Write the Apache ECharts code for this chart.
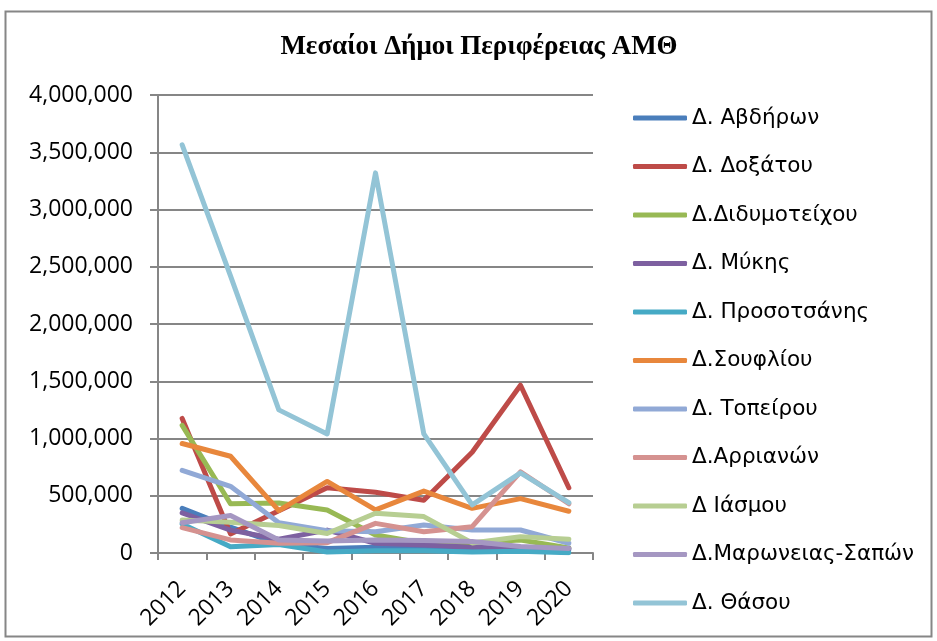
<!DOCTYPE html>
<html>
<head>
<meta charset="utf-8">
<script src="https://cdn.jsdelivr.net/npm/echarts@6/dist/echarts.min.js"></script>
<style>
  html, body { margin: 0; padding: 0; background: #fff; }
  #main { width: 937px; height: 641px; }
</style>
</head>
<body>
<div id="main"></div>
<script>
// years on the x axis
const years = ['2012', '2013', '2014', '2015', '2016', '2017', '2018', '2019', '2020'];

// one array per municipality
const avdiron      = [390000, 225000, 80000, 40000, 50000, 60000, 40000, 30000, 30000];
const doxatou      = [1175000, 167000, 370000, 570000, 530000, 460000, 880000, 1465000, 570000];
const didymoteixou = [1115000, 430000, 436000, 375000, 157000, 85000, 90000, 114000, 45000];
const mykis        = [350000, 200000, 120000, 200000, 85000, 70000, 50000, 40000, 40000];
const prosotsanis  = [254000, 55000, 75000, 9000, 20000, 20000, 8000, 15000, 3000];
const soufliou     = [956000, 845000, 370000, 625000, 377000, 541000, 390000, 475000, 365000];
const topeirou     = [722000, 582000, 265000, 195000, 186000, 245000, 201000, 201000, 85000];
const arrianon     = [221000, 114000, 85000, 90000, 259000, 186000, 230000, 708000, 430000];
const iasmou       = [288000, 269000, 240000, 170000, 347000, 318000, 88000, 143000, 120000];
const maroneias    = [265000, 328000, 114000, 104000, 114000, 110000, 100000, 56000, 40000];
const thasou       = [3565000, 2420000, 1250000, 1040000, 3320000, 1040000, 420000, 700000, 440000];

const names = ['Δ. Αβδήρων', 'Δ. Δοξάτου', 'Δ.Διδυμοτείχου', 'Δ. Μύκης', 'Δ. Προσοτσάνης',
  'Δ.Σουφλίου', 'Δ. Τοπείρου', 'Δ.Αρριανών', 'Δ Ιάσμου', 'Δ.Μαρωνειας-Σαπών', 'Δ. Θάσου'];
const colors = ['#4A7EBB', '#BE4B48', '#98B954', '#7D60A0', '#46AAC5',
  '#E8873C', '#91A9D6', '#D59290', '#B7CE92', '#A597C2', '#93C4D6'];
const values = [avdiron, doxatou, didymoteixou, mykis, prosotsanis, soufliou,
  topeirou, arrianon, iasmou, maroneias, thasou];

const chart = echarts.init(document.getElementById('main'));

const series = names.map((n, i) => ({
  name: n,
  type: 'line',
  data: values[i],
  symbol: 'none',
  lineStyle: { width: 5, color: colors[i], cap: 'round', join: 'round' },
  itemStyle: { color: colors[i] }
}));

chart.setOption({
  animation: false,
  backgroundColor: '#fff',
  title: {
    text: 'Μεσαίοι Δήμοι Περιφέρειας ΑΜΘ',
    left: 479,
    textAlign: 'center',
    top: 34,
    padding: 0,
    textStyle: { fontFamily: 'Liberation Serif', fontWeight: 'bold', fontSize: 27, color: '#000' }
  },
  graphic: [{
    type: 'rect',
    shape: { x: 5.5, y: 11.5, width: 926, height: 625 },
    style: { fill: 'none', stroke: '#868686', lineWidth: 2 },
    silent: true
  }],
  legend: {
    orient: 'vertical',
    left: 633,
    top: 107,
    padding: 0,
    icon: 'roundRect',
    itemWidth: 54,
    itemHeight: 5,
    itemGap: 26.5,
    textStyle: { fontFamily: 'DejaVu Sans', fontSize: 21.5, color: '#000', lineHeight: 21 },
    data: names
  },
  grid: { left: 158, right: 344, top: 95, bottom: 88 },
  xAxis: {
    type: 'category',
    data: years,
    boundaryGap: true,
    axisLine: { lineStyle: { color: '#868686', width: 2 } },
    axisTick: { show: true, length: 7, lineStyle: { color: '#868686', width: 2 } },
    axisLabel: { rotate: 45, color: '#000', fontFamily: 'Open Sans', fontSize: 23, margin: 32, interval: 0 },
    splitLine: { show: false }
  },
  yAxis: {
    type: 'value',
    min: 0,
    max: 4000000,
    interval: 500000,
    axisLine: { show: true, lineStyle: { color: '#868686', width: 2 } },
    axisTick: { show: true, length: 8, lineStyle: { color: '#868686', width: 2 } },
    axisLabel: {
      color: '#000', fontFamily: 'Open Sans', fontSize: 23, margin: 25,
      formatter: v => v.toLocaleString('en-US')
    },
    splitLine: { lineStyle: { color: '#868686', width: 2 } }
  },
  series: series
});
</script>
</body>
</html>
